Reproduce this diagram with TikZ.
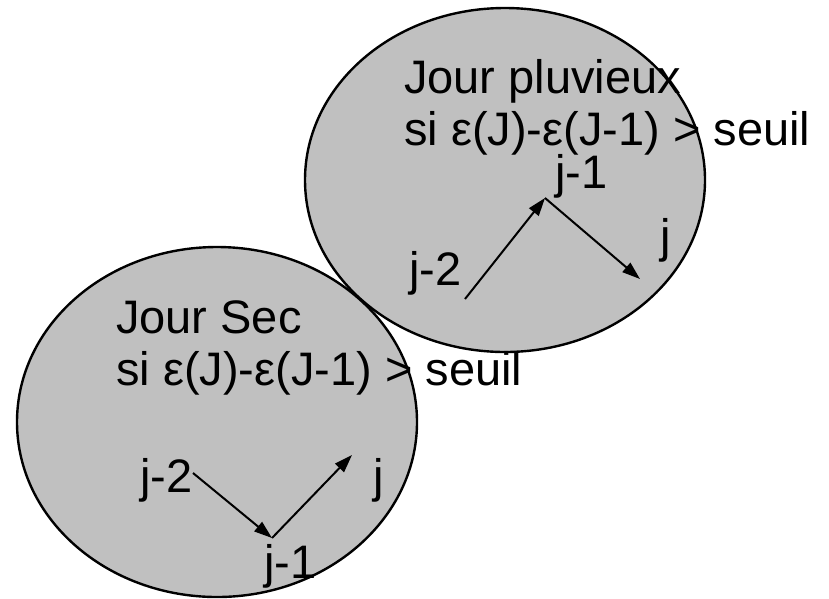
\documentclass[tikz,border=0pt]{standalone}
\usepackage{fontspec}
\setmainfont{Liberation Sans}
\usepackage{tikz}
\usetikzlibrary{arrows.meta}
\definecolor{etatgris}{RGB}{192,192,192}
\tikzstyle{etat} = [fill=etatgris]
\tikzstyle{bord} = [draw=black, line width=2.4pt]
\tikzstyle{line} = [draw, line width=2pt, -{Triangle[length=18pt,width=12pt]}]
\tikzstyle{lbl} = [anchor=base west, inner sep=0pt, font=\fontsize{47}{56}\selectfont]

\begin{document}
\begin{tikzpicture}[x=1pt,y=-1pt]
    \useasboundingbox (0,0) rectangle (829,598);

        % centres of the two states
        \coordinate (pluie) at (505, 180);
        \coordinate (sec) at (217, 422);

        \fill[etat] (pluie) ellipse [x radius=200pt, y radius=172pt];
        \fill[etat] (sec) ellipse [x radius=200pt, y radius=175pt];
        \draw[bord] (pluie) ellipse [x radius=200pt, y radius=172pt];
        \draw[bord] (sec) ellipse [x radius=200pt, y radius=175pt];

        \node[lbl] (plTitre) at (404, 93) {Jour pluvieux};
        \node[lbl] (plCond) at (404, 145) {si ε(J)-ε(J-1) > seuil};
        \node[lbl] (plJ2) at (409, 285) {j-2};
        \node[lbl] (plJ1) at (555, 188) {j-1};
        \node[lbl] (plJ) at (660, 252) {j};

        \node[lbl] (seTitre) at (116, 333) {Jour Sec};
        \node[lbl] (seCond) at (116, 385) {si ε(J)-ε(J-1) > seuil};
        \node[lbl] (seJ2) at (140, 492) {j-2};
        \node[lbl] (seJ) at (373, 492) {j};
        \node[lbl] (seJ1) at (264, 578) {j-1};

    % j-2 -> j-1 -> j
    \coordinate (plA) at (465, 299);
    \coordinate (plB) at (545, 198);
    \coordinate (plC) at (640, 279);
    \draw[line] (plA) -- (plB);
    \draw[line] (plB) -- (plC);

    \coordinate (seA) at (193, 473);
    \coordinate (seB) at (272, 538);
    \coordinate (seC) at (352, 455);
    \draw[line] (seA) -- (seB);
    \draw[line] (seB) -- (seC);

    \end{tikzpicture}
\end{document}
